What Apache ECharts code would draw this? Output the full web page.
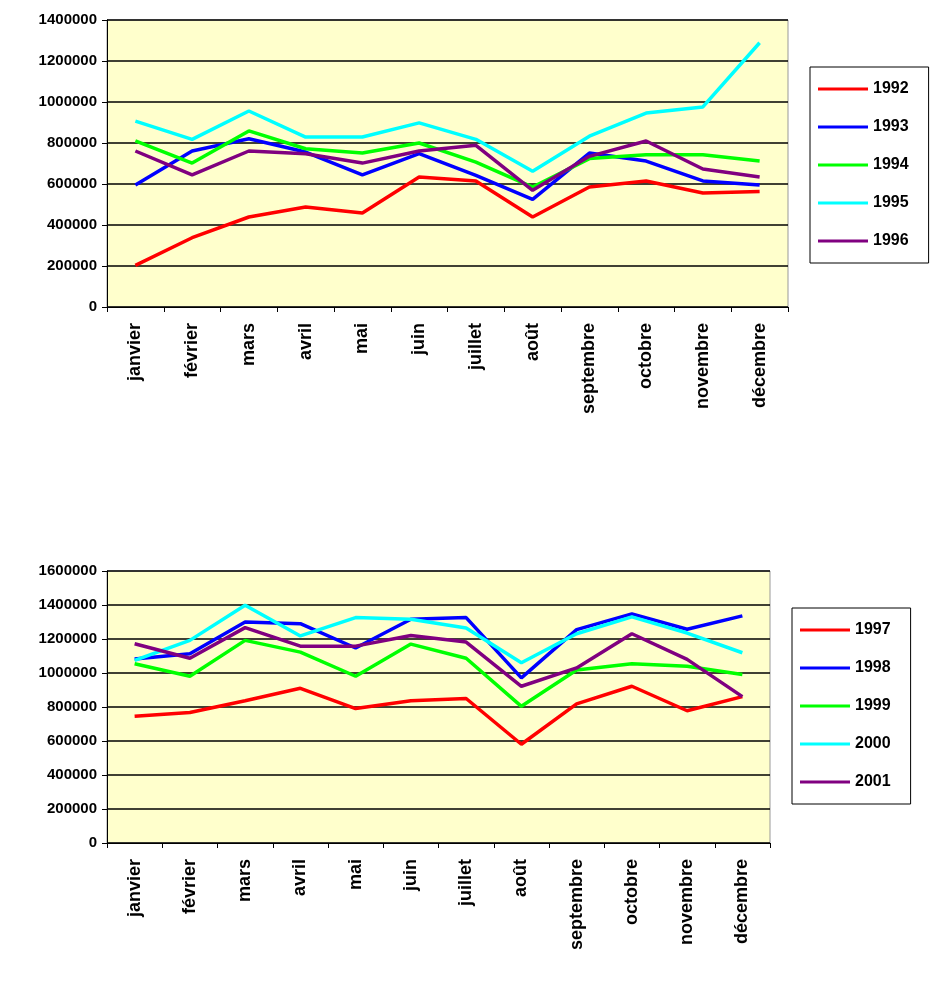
<!DOCTYPE html>
<html><head><meta charset="utf-8">
<script src="https://cdn.jsdelivr.net/npm/echarts@6/dist/echarts.min.js"></script>
<style>html,body{margin:0;padding:0;background:#fff}#c{width:930px;height:983px}</style>
</head><body><div id="c"></div>
<script>
const months = ['janvier','février','mars','avril','mai','juin','juillet','août','septembre','octobre','novembre','décembre'];
const years1 = ['1992','1993','1994','1995','1996'];
const years2 = ['1997','1998','1999','2000','2001'];
const v1992 = [203000,338000,439000,488000,459000,634000,615000,439000,585000,615000,556000,564000];
const v1993 = [595000,761000,821000,756000,644000,748000,642000,525000,751000,712000,615000,595000];
const v1994 = [810000,702000,859000,772000,751000,800000,707000,585000,724000,743000,743000,712000];
const v1995 = [907000,818000,956000,829000,829000,898000,818000,662000,833000,946000,976000,1289000];
const v1996 = [761000,644000,761000,748000,702000,761000,789000,569000,735000,810000,673000,634000];
const v1997 = [745000,768000,837000,910000,791000,837000,850000,581000,818000,922000,778000,861000];
const v1998 = [1083000,1113000,1300000,1290000,1147000,1316000,1326000,971000,1255000,1348000,1257000,1336000];
const v1999 = [1054000,981000,1192000,1123000,981000,1170000,1087000,804000,1018000,1054000,1040000,991000];
const v2000 = [1074000,1192000,1399000,1218000,1326000,1316000,1265000,1060000,1231000,1330000,1235000,1119000];
const v2001 = [1172000,1087000,1267000,1158000,1158000,1221000,1182000,922000,1030000,1231000,1080000,861000];
const colors = ['#FF0000','#0000FF','#00FF00','#00FFFF','#800080'];
const font = {fontFamily:'Arial, Liberation Sans', fontWeight:'bold', fontSize:15, color:'#000'};
const data1 = [v1992,v1993,v1994,v1995,v1996];
const data2 = [v1997,v1998,v1999,v2000,v2001];
function xAx(i){return {type:'category',gridIndex:i,data:months,boundaryGap:true,
  axisLine:{lineStyle:{color:'#000',width:1}},axisTick:{show:true,length:5,lineStyle:{color:'#000'}},
  axisLabel:Object.assign({},font,{rotate:90,interval:0,margin:16,fontSize:18}),splitLine:{show:false}};}
function yAx(i,max){return {type:'value',gridIndex:i,min:0,max:max,interval:200000,
  axisLine:{show:true,lineStyle:{color:'#000'}},axisTick:{show:true,length:5,lineStyle:{color:'#000'}},
  axisLabel:Object.assign({margin:10,formatter:v=>String(v)},font),splitLine:{lineStyle:{color:'#000',width:1.5}}};}
const series=[];
years1.forEach((y,k)=>series.push({name:y,type:'line',xAxisIndex:0,yAxisIndex:0,data:data1[k],symbol:'none',lineStyle:{width:3.5,color:colors[k]},itemStyle:{color:colors[k]}}));
years2.forEach((y,k)=>series.push({name:y,type:'line',xAxisIndex:1,yAxisIndex:1,data:data2[k],symbol:'none',lineStyle:{width:3.5,color:colors[k]},itemStyle:{color:colors[k]}}));
function leg(names,left,top){return {data:names,orient:'vertical',left:left,top:top,icon:'rect',itemWidth:50,itemHeight:3,itemGap:22,
  padding:[14,20,14,8],borderColor:'#000',borderWidth:1,textStyle:Object.assign({},font,{fontSize:16})};}
const chart=echarts.init(document.getElementById('c'));
chart.setOption({
  animation:false,
  grid:[{left:107,top:20,width:681,height:287,show:true,backgroundColor:'#FFFFCC',borderColor:'#999',borderWidth:1},
        {left:107,top:571,width:663,height:272,show:true,backgroundColor:'#FFFFCC',borderColor:'#999',borderWidth:1}],
  xAxis:[xAx(0),xAx(1)],
  yAxis:[yAx(0,1400000),yAx(1,1600000)],
  legend:[leg(years1,810,67),leg(years2,792,608)],
  series:series
});
</script></body></html>
